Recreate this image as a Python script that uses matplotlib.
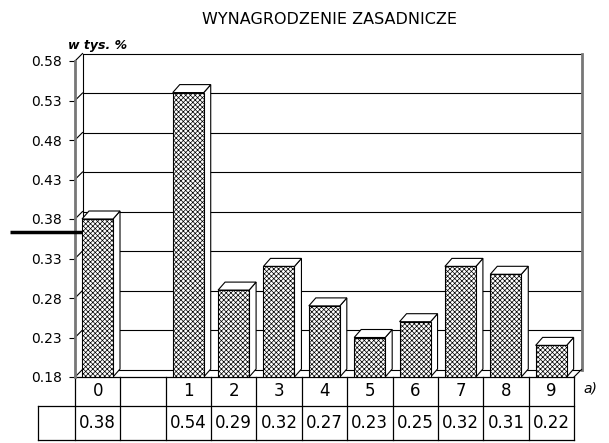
import matplotlib.pyplot as plt
import numpy as np
from matplotlib.patches import Polygon
from matplotlib.transforms import blended_transform_factory

plt.rcParams['font.family'] = ['DejaVu Sans']
plt.rcParams['hatch.linewidth'] = 0.5

# data
categories = ['0', '', '1', '2', '3', '4', '5', '6', '7', '8', '9']
values = [0.38, np.nan, 0.54, 0.29, 0.32, 0.27, 0.23, 0.25, 0.32, 0.31, 0.22]
value_labels = ['0.38', '', '0.54', '0.29', '0.32', '0.27', '0.23', '0.25', '0.32', '0.31', '0.22']
yticks = [0.18, 0.23, 0.28, 0.33, 0.38, 0.43, 0.48, 0.53, 0.58]
marker_level = 0.364
title = 'WYNAGRODZENIE ZASADNICZE'
unit_label = 'w tys. %'
panel_label = 'a)'

W, H = 609, 443
fig = plt.figure(figsize=(W / 100, H / 100), dpi=100)
ax = fig.add_axes([75 / W, 66 / H, 499 / W, 316 / H])
ymin, ymax = yticks[0], yticks[-1]
ncol = len(categories)
ax.set_xlim(0, ncol)
ax.set_ylim(ymin, ymax)

# pixel -> data helpers
kx = ncol / 499.0
ky = (ymax - ymin) / 316.0
bdx, bdy = 7.5 * kx, 7.5 * ky   # back wall depth
ddx, ddy = 7 * kx, 8 * ky       # bar depth

# back wall + gridlines
for t in yticks:
    ax.plot([bdx, ncol + bdx], [t + bdy, t + bdy], color='black', lw=0.8, clip_on=False, zorder=1)
    ax.plot([0, bdx], [t, t + bdy], color='black', lw=0.8, clip_on=False, zorder=1)
ax.plot([bdx, bdx], [ymin + bdy, ymax + bdy], color='black', lw=0.8, clip_on=False, zorder=1)
ax.plot([ncol + bdx, ncol + bdx], [ymin + bdy, ymax + bdy], color='#777777', lw=2, clip_on=False, zorder=1)
ax.plot([ncol, ncol + bdx], [ymin, ymin + bdy], color='black', lw=0.8, clip_on=False, zorder=1)

# bars (front face hatched, white top and side)
x = np.arange(ncol)
vals = np.array(values)
mask = ~np.isnan(vals)
xf = x[mask] + 7 * kx
bw = 31 * kx
ax.bar(xf, vals[mask] - ymin, width=bw, bottom=ymin, align='edge', color='white',
       edgecolor='black', hatch='xxxxxxx', lw=0.8, zorder=3)
for x0, v in zip(xf, vals[mask]):
    side = [(x0 + bw, ymin), (x0 + bw + ddx, ymin + ddy), (x0 + bw + ddx, v + ddy), (x0 + bw, v)]
    top = [(x0, v), (x0 + ddx, v + ddy), (x0 + bw + ddx, v + ddy), (x0 + bw, v)]
    ax.add_patch(Polygon(side, closed=True, facecolor='white', edgecolor='black', lw=0.8, zorder=2.5, clip_on=False))
    ax.add_patch(Polygon(top, closed=True, facecolor='white', edgecolor='black', lw=0.8, zorder=2.5, clip_on=False))

# axes styling
for s in ['top', 'right', 'bottom']:
    ax.spines[s].set_visible(False)
ax.spines['left'].set_color('#777777')
ax.spines['left'].set_linewidth(2)
ax.set_xticks([])
ax.set_yticks(yticks)
ax.set_yticklabels(['%.2f' % t for t in yticks])
ax.tick_params(axis='y', length=4.5, width=0.8, pad=5, labelsize=10)

# table under the chart
tr = blended_transform_factory(ax.transData, ax.transAxes)
r1, r2 = -29 / 316, -63 / 316
xl = -37 * kx
ax.plot([0, ncol], [0, 0], color='black', lw=0.9, transform=tr, clip_on=False)
ax.plot([0, ncol], [r1, r1], color='black', lw=0.9, transform=tr, clip_on=False)
ax.plot([xl, 0], [r1, r1], color='black', lw=0.9, transform=tr, clip_on=False)
ax.plot([xl, ncol], [r2, r2], color='black', lw=0.9, transform=tr, clip_on=False)
ax.plot([xl, xl], [r1, r2], color='black', lw=0.9, transform=tr, clip_on=False)
for i in range(ncol + 1):
    ax.plot([i, i], [0, r2], color='black', lw=0.9, transform=tr, clip_on=False)
for i in range(ncol):
    ax.text(i + 0.5, r1 / 2, categories[i], transform=tr, ha='center', va='center', fontsize=12)
    ax.text(i + 0.5, (r1 + r2) / 2, value_labels[i], transform=tr, ha='center', va='center', fontsize=12)

# marker line at the left
ax.plot([-65 * kx, 7 * kx], [marker_level, marker_level], color='black', lw=2.5,
        solid_capstyle='butt', clip_on=False, zorder=4)

fig.text(330 / W, 1 - 20 / H, title, ha='center', va='center', fontsize=11.5)
fig.text(68 / W, 1 - 45 / H, unit_label, ha='left', va='center', fontsize=9, style='italic', weight='bold')
fig.text(583 / W, 1 - 388 / H, panel_label, ha='left', va='center', fontsize=10, style='italic')

fig.savefig('out.png', dpi=100)
